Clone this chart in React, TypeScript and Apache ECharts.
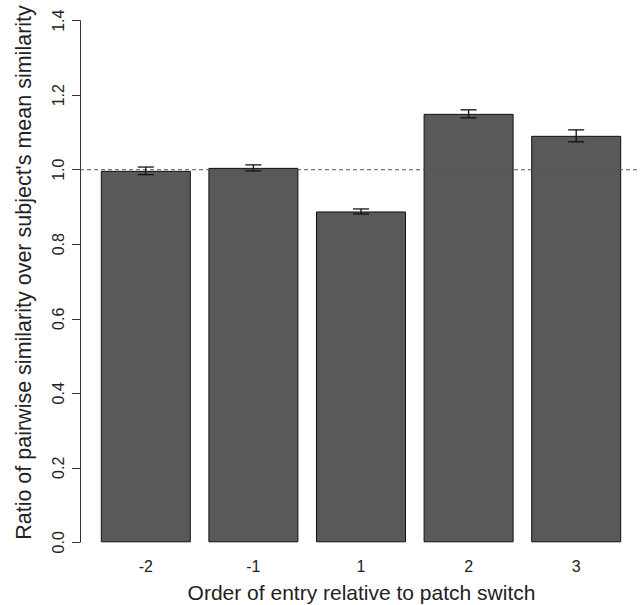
import React, { useEffect, useRef } from "react";
import * as echarts from "echarts";

const categories = ["-2", "-1", "1", "2", "3"];
const ratios = [0.997, 1.005, 0.888, 1.15, 1.091];
const errors = [0.0102, 0.008, 0.0067, 0.0107, 0.016];
const yMin = 0;
const yMax = 1.4;
const yStep = 0.2;
const referenceLevel = 1.0;
const xTitle = "Order of entry relative to patch switch";
const yTitle = "Ratio of pairwise similarity over subject's mean similarity";

const FONT = "'Liberation Sans', Arial, Helvetica, sans-serif";

export default function App() {
  const ref = useRef<HTMLDivElement>(null);
  useEffect(() => {
    if (!ref.current) return;
    const chart = echarts.init(ref.current, undefined, { renderer: "svg" });
    const option: any = {
      animation: false,
      backgroundColor: "#ffffff",
      textStyle: { fontFamily: FONT },
      grid: { left: 92, right: 10, top: 20.7, bottom: 62.7, containLabel: false },
      xAxis: {
        type: "category",
        data: categories,
        axisLine: { show: false },
        axisTick: { show: false },
        axisLabel: { fontSize: 16, margin: 16, color: "#222", fontFamily: FONT },
      },
      yAxis: {
        type: "value",
        min: yMin,
        max: yMax,
        interval: yStep,
        offset: 12,
        axisLine: { show: true, lineStyle: { color: "#333", width: 1 } },
        axisTick: { show: true, length: 8, inside: false, lineStyle: { color: "#333", width: 1 } },
        axisLabel: {
          rotate: 90,
          margin: 14,
          fontSize: 16,
          color: "#222",
          fontFamily: FONT,
          formatter: (v: number) => v.toFixed(1),
        },
        splitLine: { show: false },
      },
      graphic: [
        {
          type: "text",
          x: 23.5,
          y: 272.5,
          rotation: Math.PI / 2,
          silent: true,
          style: {
            text: yTitle,
            fontSize: 21.5,
            fontFamily: FONT,
            fill: "#222",
            align: "center",
            verticalAlign: "middle",
          },
        },
        {
          type: "text",
          x: 361.5,
          y: 592.5,
          silent: true,
          style: {
            text: xTitle,
            fontSize: 21,
            fontFamily: FONT,
            fill: "#222",
            align: "center",
            verticalAlign: "middle",
          },
        },
      ],
      series: [
        {
          type: "bar",
          data: ratios,
          barWidth: 90,
          itemStyle: { color: "#595959", borderColor: "#111", borderWidth: 1 },
          silent: true,
          z: 2,
        },
        {
          type: "custom",
          clip: false,
          silent: true,
          z: 3,
          data: [[0, referenceLevel]],
          renderItem: (params: any, api: any) => {
            const y = api.coord([0, api.value(1)])[1];
            const cs = params.coordSys;
            return {
              type: "line",
              shape: { x1: cs.x - 12, y1: y, x2: cs.x + cs.width + 12, y2: y },
              style: { stroke: "#555", lineWidth: 1, lineDash: [4, 3] },
            };
          },
        },
        {
          type: "custom",
          clip: false,
          silent: true,
          z: 4,
          data: categories.map((c, i) => [i, ratios[i], errors[i]]),
          renderItem: (params: any, api: any) => {
            const i = api.value(0);
            const v = api.value(1);
            const e = api.value(2);
            const top = api.coord([i, v + e]);
            const bot = api.coord([i, v - e]);
            const half = 8;
            const st = { stroke: "#111", lineWidth: 1.3 };
            return {
              type: "group",
              children: [
                { type: "line", shape: { x1: top[0], y1: top[1], x2: bot[0], y2: bot[1] }, style: st },
                { type: "line", shape: { x1: top[0] - half, y1: top[1], x2: top[0] + half, y2: top[1] }, style: st },
                { type: "line", shape: { x1: bot[0] - half, y1: bot[1], x2: bot[0] + half, y2: bot[1] }, style: st },
              ],
            };
          },
        },
      ],
    };
    chart.setOption(option);
    return () => chart.dispose();
  }, []);
  return (
    <div
      ref={ref}
      style={{ position: "fixed", left: 0, top: 0, width: 640, height: 605, background: "#fff" }}
    />
  );
}
